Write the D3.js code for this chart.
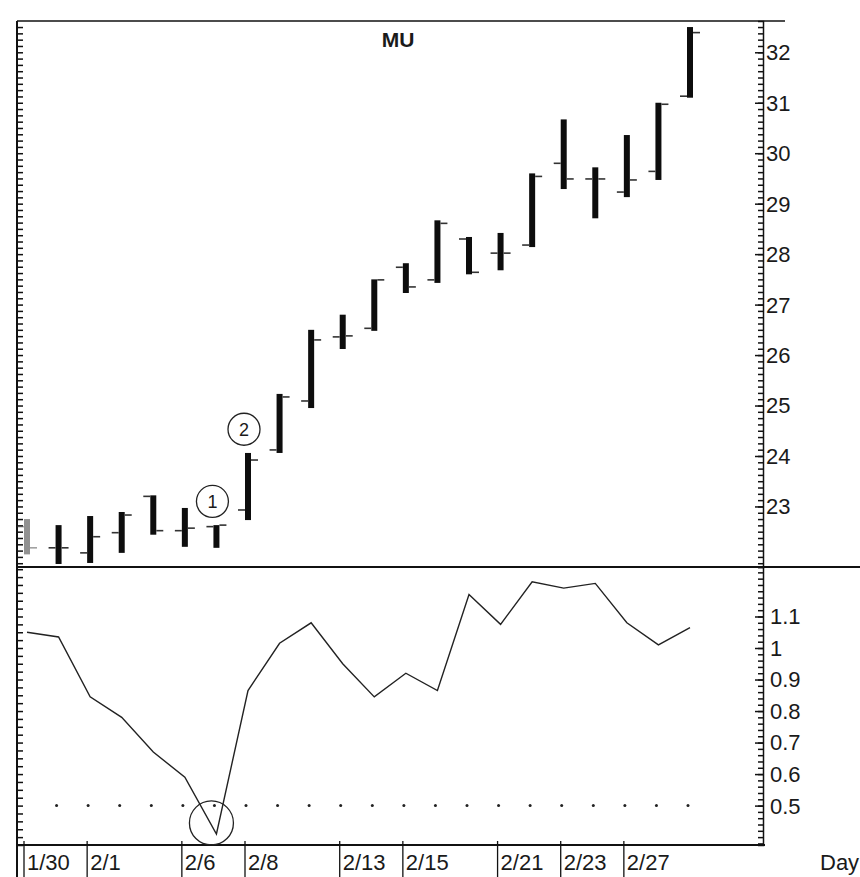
<!DOCTYPE html>
<html>
<head>
<meta charset="utf-8">
<script src="https://cdn.jsdelivr.net/npm/d3@7"></script>
<style>
  body { margin: 0; background: #fff; }
  text { font-family: 'Liberation Sans', Arial, sans-serif; fill: #1a1a1a; }
</style>
</head>
<body>
<svg id="chart"></svg>
<script>
const WIDTH = 860;
const HEIGHT = 877;

// Frame edges.
const LEFT = 17;
const AXIS_X = 763;
const TOP = 21;
const SPLIT = 567; // line between price and indicator panels
const BOTTOM = 845; // bottom of indicator panel

// Trading days, 1/30 to 3/1.
const days = ['1/30', '1/31', '2/1', '2/2', '2/5', '2/6', '2/7', '2/8', '2/9',
  '2/12', '2/13', '2/14', '2/15', '2/16', '2/20', '2/21', '2/22', '2/23',
  '2/26', '2/27', '2/28', '3/1'];

const opens = [22.6, 22.18, 22.08, 22.48, 23.2, 22.52, 22.6, 22.93, 24.12,
  25.09, 26.36, 26.53, 27.74, 27.49, 28.3, 28.02, 28.18, 29.8, 29.49, 29.23,
  29.64, 31.13];
const highs = [22.75, 22.63, 22.81, 22.89, 23.22, 22.97, 22.63, 24.06, 25.23,
  26.5, 26.8, 27.5, 27.82, 28.67, 28.34, 28.42, 29.6, 30.67, 29.72, 30.36,
  31.0, 32.5];
const lows = [22.05, 21.86, 21.88, 22.08, 22.44, 22.2, 22.18, 22.73, 24.06,
  24.95, 26.12, 26.48, 27.23, 27.43, 27.6, 27.68, 28.14, 29.29, 28.71, 29.13,
  29.47, 31.1];
const closes = [22.18, 22.18, 22.4, 22.83, 22.52, 22.57, 22.63, 23.92, 25.17,
  26.3, 26.38, 27.49, 27.35, 28.61, 27.64, 28.02, 29.54, 29.49, 29.49, 29.47,
  30.97, 32.39];

// Lower panel indicator.
const ratio = [1.05, 1.035, 0.845, 0.78, 0.67, 0.59, 0.41, 0.865, 1.015, 1.08,
  0.95, 0.845, 0.92, 0.865, 1.17, 1.075, 1.21, 1.19, 1.205, 1.08, 1.01, 1.065];
const threshold = 0.5;

const dayLabels = ['1/30', '2/1', '2/6', '2/8', '2/13', '2/15', '2/21', '2/23', '2/27'];
const priceTicks = [23, 24, 25, 26, 27, 28, 29, 30, 31, 32];
const ratioTicks = [0.5, 0.6, 0.7, 0.8, 0.9, 1, 1.1];

// Circled marks: day, value, label.
const priceMarks = [
  {day: '2/7', value: 23.1, label: '1'},
  {day: '2/8', value: 24.53, label: '2'}
];
const ratioMark = {day: '2/7', value: 0.445};

const svg = d3.select('#chart').attr('width', WIDTH).attr('height', HEIGHT);
svg.append('rect').attr('width', WIDTH).attr('height', HEIGHT).attr('fill', '#fff');

const xScale = d3.scalePoint().domain(days).range([27, 690]);
const yPrice = d3.scaleLinear().domain([21.8, 32.62]).range([SPLIT, TOP]);
const yRatio = d3.scaleLinear().domain([0.375, 1.257]).range([BOTTOM, SPLIT]);

const bars = days.map((d, i) => ({
  day: d, open: opens[i], high: highs[i], low: lows[i], close: closes[i]
}));

// Frame lines.
const frame = svg.append('g').attr('stroke', '#111').attr('fill', 'none');
frame.append('line').attr('x1', LEFT).attr('x2', 785).attr('y1', TOP).attr('y2', TOP)
  .attr('stroke-width', 1.5);
frame.append('line').attr('x1', LEFT).attr('x2', WIDTH).attr('y1', SPLIT).attr('y2', SPLIT)
  .attr('stroke-width', 2);
frame.append('line').attr('x1', LEFT).attr('x2', AXIS_X + 2).attr('y1', BOTTOM).attr('y2', BOTTOM)
  .attr('stroke-width', 2);
frame.append('line').attr('x1', LEFT).attr('x2', LEFT).attr('y1', TOP).attr('y2', HEIGHT)
  .attr('stroke-width', 2);

// Right axes with fine minor ticks pointing into the plot.
function rightAxis(scale, ticks, minorStep, format, labelX) {
  const [lo, hi] = scale.domain();
  const minor = d3.range(Math.ceil(lo / minorStep) * minorStep, hi, minorStep);
  const axis = d3.axisLeft(scale).tickValues(minor).tickSize(5).tickFormat('');
  const g = svg.append('g').attr('transform', `translate(${AXIS_X},0)`).call(axis);
  g.select('.domain').attr('stroke', '#111').attr('stroke-width', 1.5);
  g.selectAll('.tick line').attr('stroke', '#111').attr('stroke-width', 1.5);
  const major = d3.axisLeft(scale).tickValues(ticks).tickSize(8).tickFormat('');
  const gm = svg.append('g').attr('transform', `translate(${AXIS_X},0)`).call(major);
  gm.select('.domain').remove();
  gm.selectAll('.tick line').attr('stroke', '#111').attr('stroke-width', 1.5);
  svg.append('g').selectAll('text').data(ticks).join('text')
    .attr('x', labelX).attr('y', d => scale(d)).attr('dy', '0.36em')
    .attr('font-size', 22).text(format);
}
rightAxis(yPrice, priceTicks, 0.125, d => d, 766);
rightAxis(yRatio, ratioTicks, 0.02, n => String(+n.toFixed(1)), 770);

// Left edge minor ticks.
function leftTicks(scale, step) {
  const [lo, hi] = scale.domain();
  const vals = d3.range(Math.ceil(lo / step) * step, hi, step);
  const axis = d3.axisRight(scale).tickValues(vals).tickSize(6).tickFormat('');
  const g = svg.append('g').attr('transform', `translate(${LEFT},0)`).call(axis);
  g.select('.domain').remove();
  g.selectAll('.tick line').attr('stroke', '#111').attr('stroke-width', 1.5);
}
leftTicks(yPrice, 0.125);
leftTicks(yRatio, 0.025);

// Title.
svg.append('text').attr('x', 398).attr('y', 47).attr('text-anchor', 'middle')
  .attr('font-size', 21).attr('font-weight', 'bold').text('MU');

// OHLC bars: thick high-low body, open tick left, close tick right.
const barGroups = svg.append('g').selectAll('g').data(bars).join('g')
  .attr('transform', d => `translate(${xScale(d.day)},0)`)
  .attr('opacity', (d, i) => i === 0 ? 0.45 : 1);
barGroups.append('rect')
  .attr('x', -3).attr('width', 6)
  .attr('y', d => yPrice(d.high))
  .attr('height', d => yPrice(d.low) - yPrice(d.high))
  .attr('fill', '#0d0d0d');
barGroups.append('line')
  .attr('x1', -10).attr('x2', -3)
  .attr('y1', d => yPrice(d.open)).attr('y2', d => yPrice(d.open))
  .attr('stroke', '#333').attr('stroke-width', 1.6);
barGroups.append('line')
  .attr('x1', 3).attr('x2', 10)
  .attr('y1', d => yPrice(d.close)).attr('y2', d => yPrice(d.close))
  .attr('stroke', '#333').attr('stroke-width', 1.6);

// Circled numbers.
const marks = svg.append('g').selectAll('g').data(priceMarks).join('g')
  .attr('transform', d => `translate(${xScale(d.day) - 4},${yPrice(d.value)})`);
marks.append('circle').attr('r', 16).attr('fill', '#fff')
  .attr('stroke', '#222').attr('stroke-width', 1.3);
marks.append('text').attr('text-anchor', 'middle').attr('dy', '0.36em')
  .attr('font-size', 18).text(d => d.label);

// Indicator line.
const line = d3.line().x((d, i) => xScale(days[i])).y(d => yRatio(d));
svg.append('path').datum(ratio).attr('d', line)
  .attr('fill', 'none').attr('stroke', '#222').attr('stroke-width', 1.4);

// Dotted threshold line.
svg.append('g').selectAll('circle').data(days.slice(1)).join('circle')
  .attr('cx', d => xScale(d) - 2).attr('cy', yRatio(threshold))
  .attr('r', 1.5).attr('fill', '#222');

svg.append('circle')
  .attr('cx', xScale(ratioMark.day) - 5).attr('cy', yRatio(ratioMark.value))
  .attr('r', 22).attr('fill', 'none').attr('stroke', '#222').attr('stroke-width', 1.3);

// Date row.
const dateRow = svg.append('g').selectAll('g').data(dayLabels).join('g')
  .attr('transform', d => `translate(${xScale(d) - 3},0)`);
dateRow.append('line').attr('y1', BOTTOM - 4).attr('y2', HEIGHT)
  .attr('stroke', '#111').attr('stroke-width', 1.3);
dateRow.append('text').attr('x', 3).attr('y', 870).attr('font-size', 22).text(d => d);

svg.append('text').attr('x', 820).attr('y', 870).attr('font-size', 22).text('Day');
</script>
</body>
</html>
